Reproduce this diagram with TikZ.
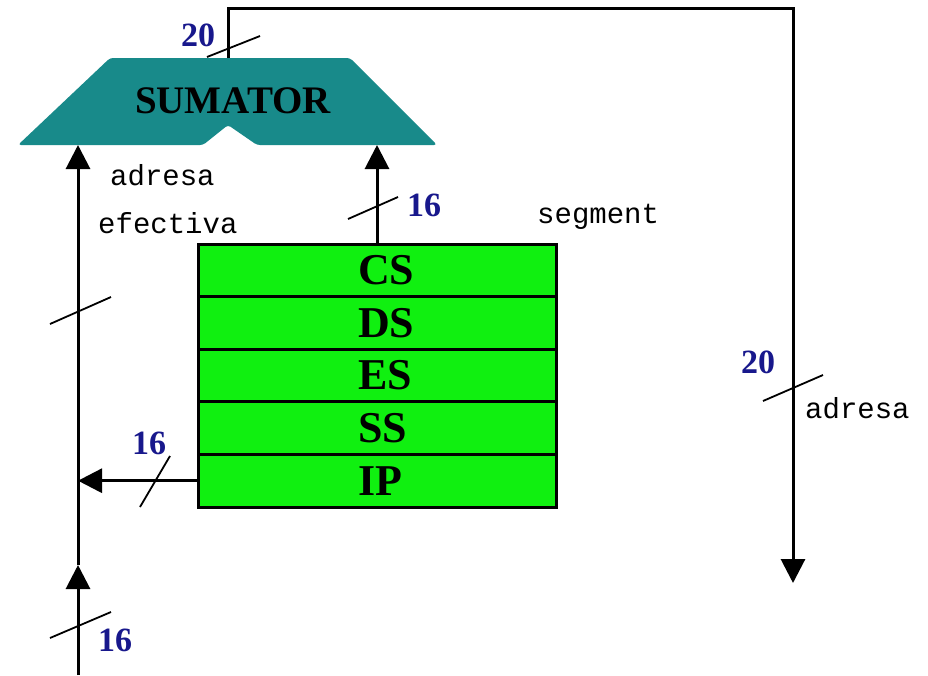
\documentclass[tikz,border=0pt]{standalone}
\usepackage{fontspec}
\setmainfont{Liberation Serif}
\setmonofont{Liberation Mono}
\usetikzlibrary{arrows.meta}
\definecolor{sumteal}{RGB}{24,138,138}
\definecolor{reggreen}{RGB}{16,240,16}
\definecolor{busblue}{RGB}{24,24,140}

\begin{document}
\begin{tikzpicture}[x=1pt, y=-1pt, >={Triangle[length=24pt,width=24pt]},
	wire/.style={line width=3pt},
	busmark/.style={line width=1.8pt},
	busnum/.style={text=busblue, inner sep=0pt, font=\fontsize{34}{34}\selectfont\bfseries},
	note/.style={inner sep=0pt, font=\fontsize{29}{29}\ttfamily},
	reg/.style={draw, line width=3pt, fill=reggreen, minimum width=358pt, minimum height=52.6pt, inner sep=0pt, font=\fontsize{44}{44}\selectfont\bfseries}]
	\useasboundingbox (0,0) rectangle (928,675);
	% adder with the notch underneath
	\fill[sumteal, rounded corners=3pt] (110,58) -- (350,58) -- (437,145) -- (257,145) -- (228,125) -- (203,145) -- (18,145) -- cycle;
	\node[font=\fontsize{39}{39}\selectfont\bfseries] (sum) at (233,101) {SUMATOR};
	\coordinate (inL) at (78,145);
	\coordinate (inR) at (377,145);
	\coordinate (out) at (228,58);
	% segment registers
	\foreach \r [count=\i from 0] in {CS,DS,ES,SS,IP}
		\node[reg] (\r) at (377,270.3+\i*52.6) {\makebox[38pt][l]{\r}};
	\coordinate (src) at (78,675);
	\coordinate (mid) at (78,565);
	\coordinate (dst) at (793,583);
	\draw[wire, ->] (src) -- (mid);
	\draw[wire, ->] (mid) -- (inL);
	\draw[wire, ->] (IP.west) -- (IP.west -| inL);
	\draw[wire, ->] (CS.north) -- (inR);
	\draw[wire, ->] (out) -- (228,8) -| (dst);
	% bus widths
	\draw[busmark] (207,57) -- (260,36);
	\draw[busmark] (348,219) -- (398,197);
	\draw[busmark] (50,324) -- (111,297);
	\draw[busmark] (140,507) -- (170,456);
	\draw[busmark] (50,638) -- (111,612);
	\draw[busmark] (763,401) -- (823,375);
	\node[busnum] (w-out) at (198,35) {20};
	\node[busnum] (w-seg) at (424,205) {16};
	\node[busnum] (w-ip) at (149,443) {16};
	\node[busnum] (w-in) at (115,640) {16};
	\node[busnum] (w-adr) at (758,362) {20};
	\node[note, anchor=base west] (ea1) at (110,185) {adresa};
	\node[note, anchor=base west] (ea2) at (98,233) {efectiva};
	\node[note, anchor=base west] (seg) at (537,223) {segment};
	\node[note, anchor=base west] (adr) at (805,418) {adresa};
\end{tikzpicture}
\end{document}
